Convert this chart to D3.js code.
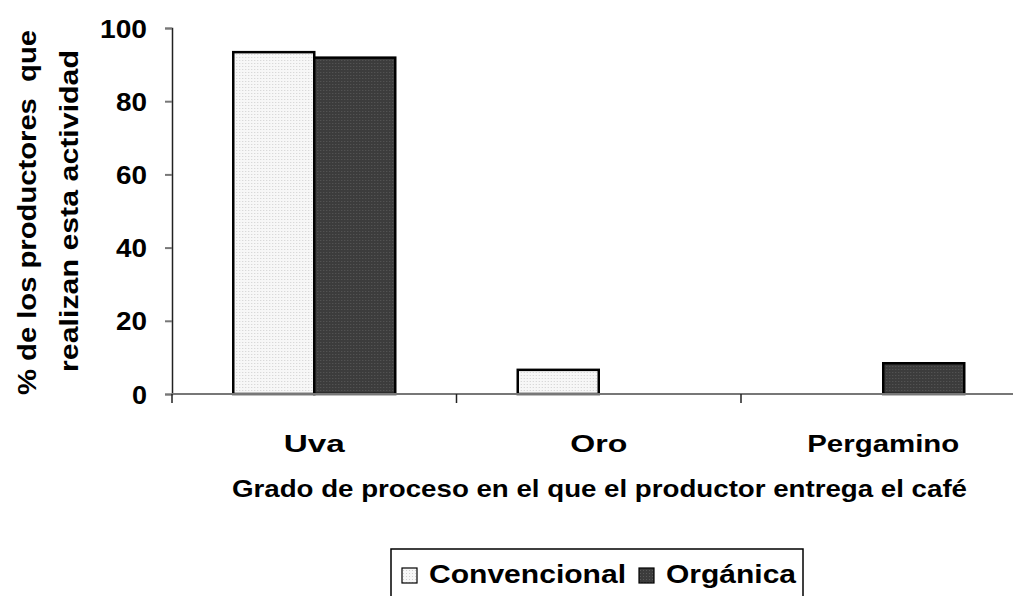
<!DOCTYPE html>
<html>
<head>
<meta charset="utf-8">
<script src="https://cdn.jsdelivr.net/npm/d3@7"></script>
<style>
  body { margin: 0; background: #fff; }
  text { font-family: "Liberation Sans", Arial, sans-serif; font-weight: bold; fill: #000; }
</style>
</head>
<body>
<svg id="chart" width="1013" height="596"></svg>
<script>
// data
var categories = ["Uva", "Oro", "Pergamino"];
var series = ["Convencional", "Orgánica"];
var convencional = [93.4, 6.6, 0];
var organica = [91.9, 0, 8.4];
var yTicks = [0, 20, 40, 60, 80, 100];

var svg = d3.select("#chart");

// plot area
var plotLeft = 172, plotTop = 28, plotBottom = 394, band = 284.5;

var defs = svg.append("defs");
// light dotted fill
var p1 = defs.append("pattern").attr("id", "conv").attr("width", 3).attr("height", 3)
  .attr("patternUnits", "userSpaceOnUse");
p1.append("rect").attr("width", 3).attr("height", 3).attr("fill", "#f7f7f7");
p1.append("rect").attr("width", 1).attr("height", 1).attr("fill", "#cfcfcf");
// dark dotted fill
var p2 = defs.append("pattern").attr("id", "org").attr("width", 3).attr("height", 3)
  .attr("patternUnits", "userSpaceOnUse");
p2.append("rect").attr("width", 3).attr("height", 3).attr("fill", "#3c3c3c");
p2.append("rect").attr("width", 1).attr("height", 1).attr("fill", "#5a5a5a");

var x = d3.scaleBand().domain(categories).range([plotLeft, plotLeft + band * 3]).padding(0);
var x1 = d3.scaleBand().domain(series).range([0, 162]);
var y = d3.scaleLinear().domain([0, 100]).range([plotBottom, plotTop]);
var fills = { "Convencional": "url(#conv)", "Orgánica": "url(#org)" };

// y axis
var yAxis = svg.append("g").attr("transform", "translate(" + plotLeft + ",0)")
  .call(d3.axisLeft(y).tickValues(yTicks).tickSize(7).tickPadding(18));
yAxis.select(".domain").attr("stroke", "#222").attr("stroke-width", 1.5);
yAxis.selectAll(".tick line").attr("stroke", "#777").attr("stroke-width", 2);
yAxis.selectAll(".tick text")
  .style("font-family", "Liberation Sans, Arial, sans-serif")
  .style("font-weight", "bold").style("font-size", "25px").attr("fill", "#000")
  .attr("dy", "0.36em")
  .attr("textLength", function(d) { return String(d).length * 16 - 1; })
  .attr("lengthAdjust", "spacingAndGlyphs");

// bars
var rows = categories.map(function(c, i) {
  return [{ cat: c, s: "Convencional", v: convencional[i] }, { cat: c, s: "Orgánica", v: organica[i] }];
});
var g = svg.append("g").selectAll("g").data(rows).enter().append("g")
  .attr("transform", function(d) { return "translate(" + (x(d[0].cat) + (band - 162) / 2) + ",0)"; });
g.selectAll("rect").data(function(d) { return d.filter(function(e) { return e.v > 0; }); })
  .enter().append("rect")
  .attr("x", function(d) { return x1(d.s); })
  .attr("y", function(d) { return y(d.v); })
  .attr("width", x1.bandwidth())
  .attr("height", function(d) { return y(0) - y(d.v); })
  .attr("fill", function(d) { return fills[d.s]; })
  .attr("stroke", "#000").attr("stroke-width", 2.5);

// x axis
var xAxis = svg.append("g").attr("transform", "translate(0," + plotBottom + ")");
xAxis.append("line").attr("x1", plotLeft).attr("x2", plotLeft + band * 3)
  .attr("stroke", "#777").attr("stroke-width", 2);
xAxis.selectAll("line.t").data(categories.concat(["end"])).enter().append("line")
  .attr("x1", function(d, i) { return plotLeft + band * i; })
  .attr("x2", function(d, i) { return plotLeft + band * i; })
  .attr("y1", 0).attr("y2", 9).attr("stroke", "#222").attr("stroke-width", 1.5);
var catWidths = { "Uva": 61, "Oro": 57, "Pergamino": 152 };
xAxis.selectAll("text").data(categories).enter().append("text")
  .attr("x", function(d) { return x(d) + x.bandwidth() / 2 - catWidths[d] / 2; })
  .attr("y", 58).style("font-size", "24px")
  .attr("textLength", function(d) { return catWidths[d]; })
  .attr("lengthAdjust", "spacingAndGlyphs")
  .text(function(d) { return d; });

// axis titles
svg.append("text").attr("x", 232).attr("y", 497)
  .style("font-size", "24px").attr("textLength", 735).attr("lengthAdjust", "spacingAndGlyphs")
  .text("Grado de proceso en el que el productor entrega el café");
svg.append("text").attr("transform", "translate(36,395) rotate(-90)")
  .style("font-size", "25px").attr("textLength", 365).attr("lengthAdjust", "spacingAndGlyphs")
  .text("% de los productores\u00a0\u00a0que");
svg.append("text").attr("transform", "translate(78,372) rotate(-90)")
  .style("font-size", "25px").attr("textLength", 322).attr("lengthAdjust", "spacingAndGlyphs")
  .text("realizan esta actividad");

// legend
var lg = svg.append("g").attr("transform", "translate(391,549)");
lg.append("rect").attr("width", 412).attr("height", 50).attr("fill", "#fff")
  .attr("stroke", "#000").attr("stroke-width", 1.5);
var items = [{ s: "Convencional", x: 11, w: 197 }, { s: "Orgánica", x: 248, w: 130 }];
items.forEach(function(it) {
  lg.append("rect").attr("x", it.x).attr("y", 19).attr("width", 15).attr("height", 15)
    .attr("fill", fills[it.s]).attr("stroke", "#000").attr("stroke-width", 1.2);
  lg.append("text").attr("x", it.x + 27).attr("y", 34).style("font-size", "25px")
    .attr("textLength", it.w).attr("lengthAdjust", "spacingAndGlyphs").text(it.s);
});
</script>
</body>
</html>
